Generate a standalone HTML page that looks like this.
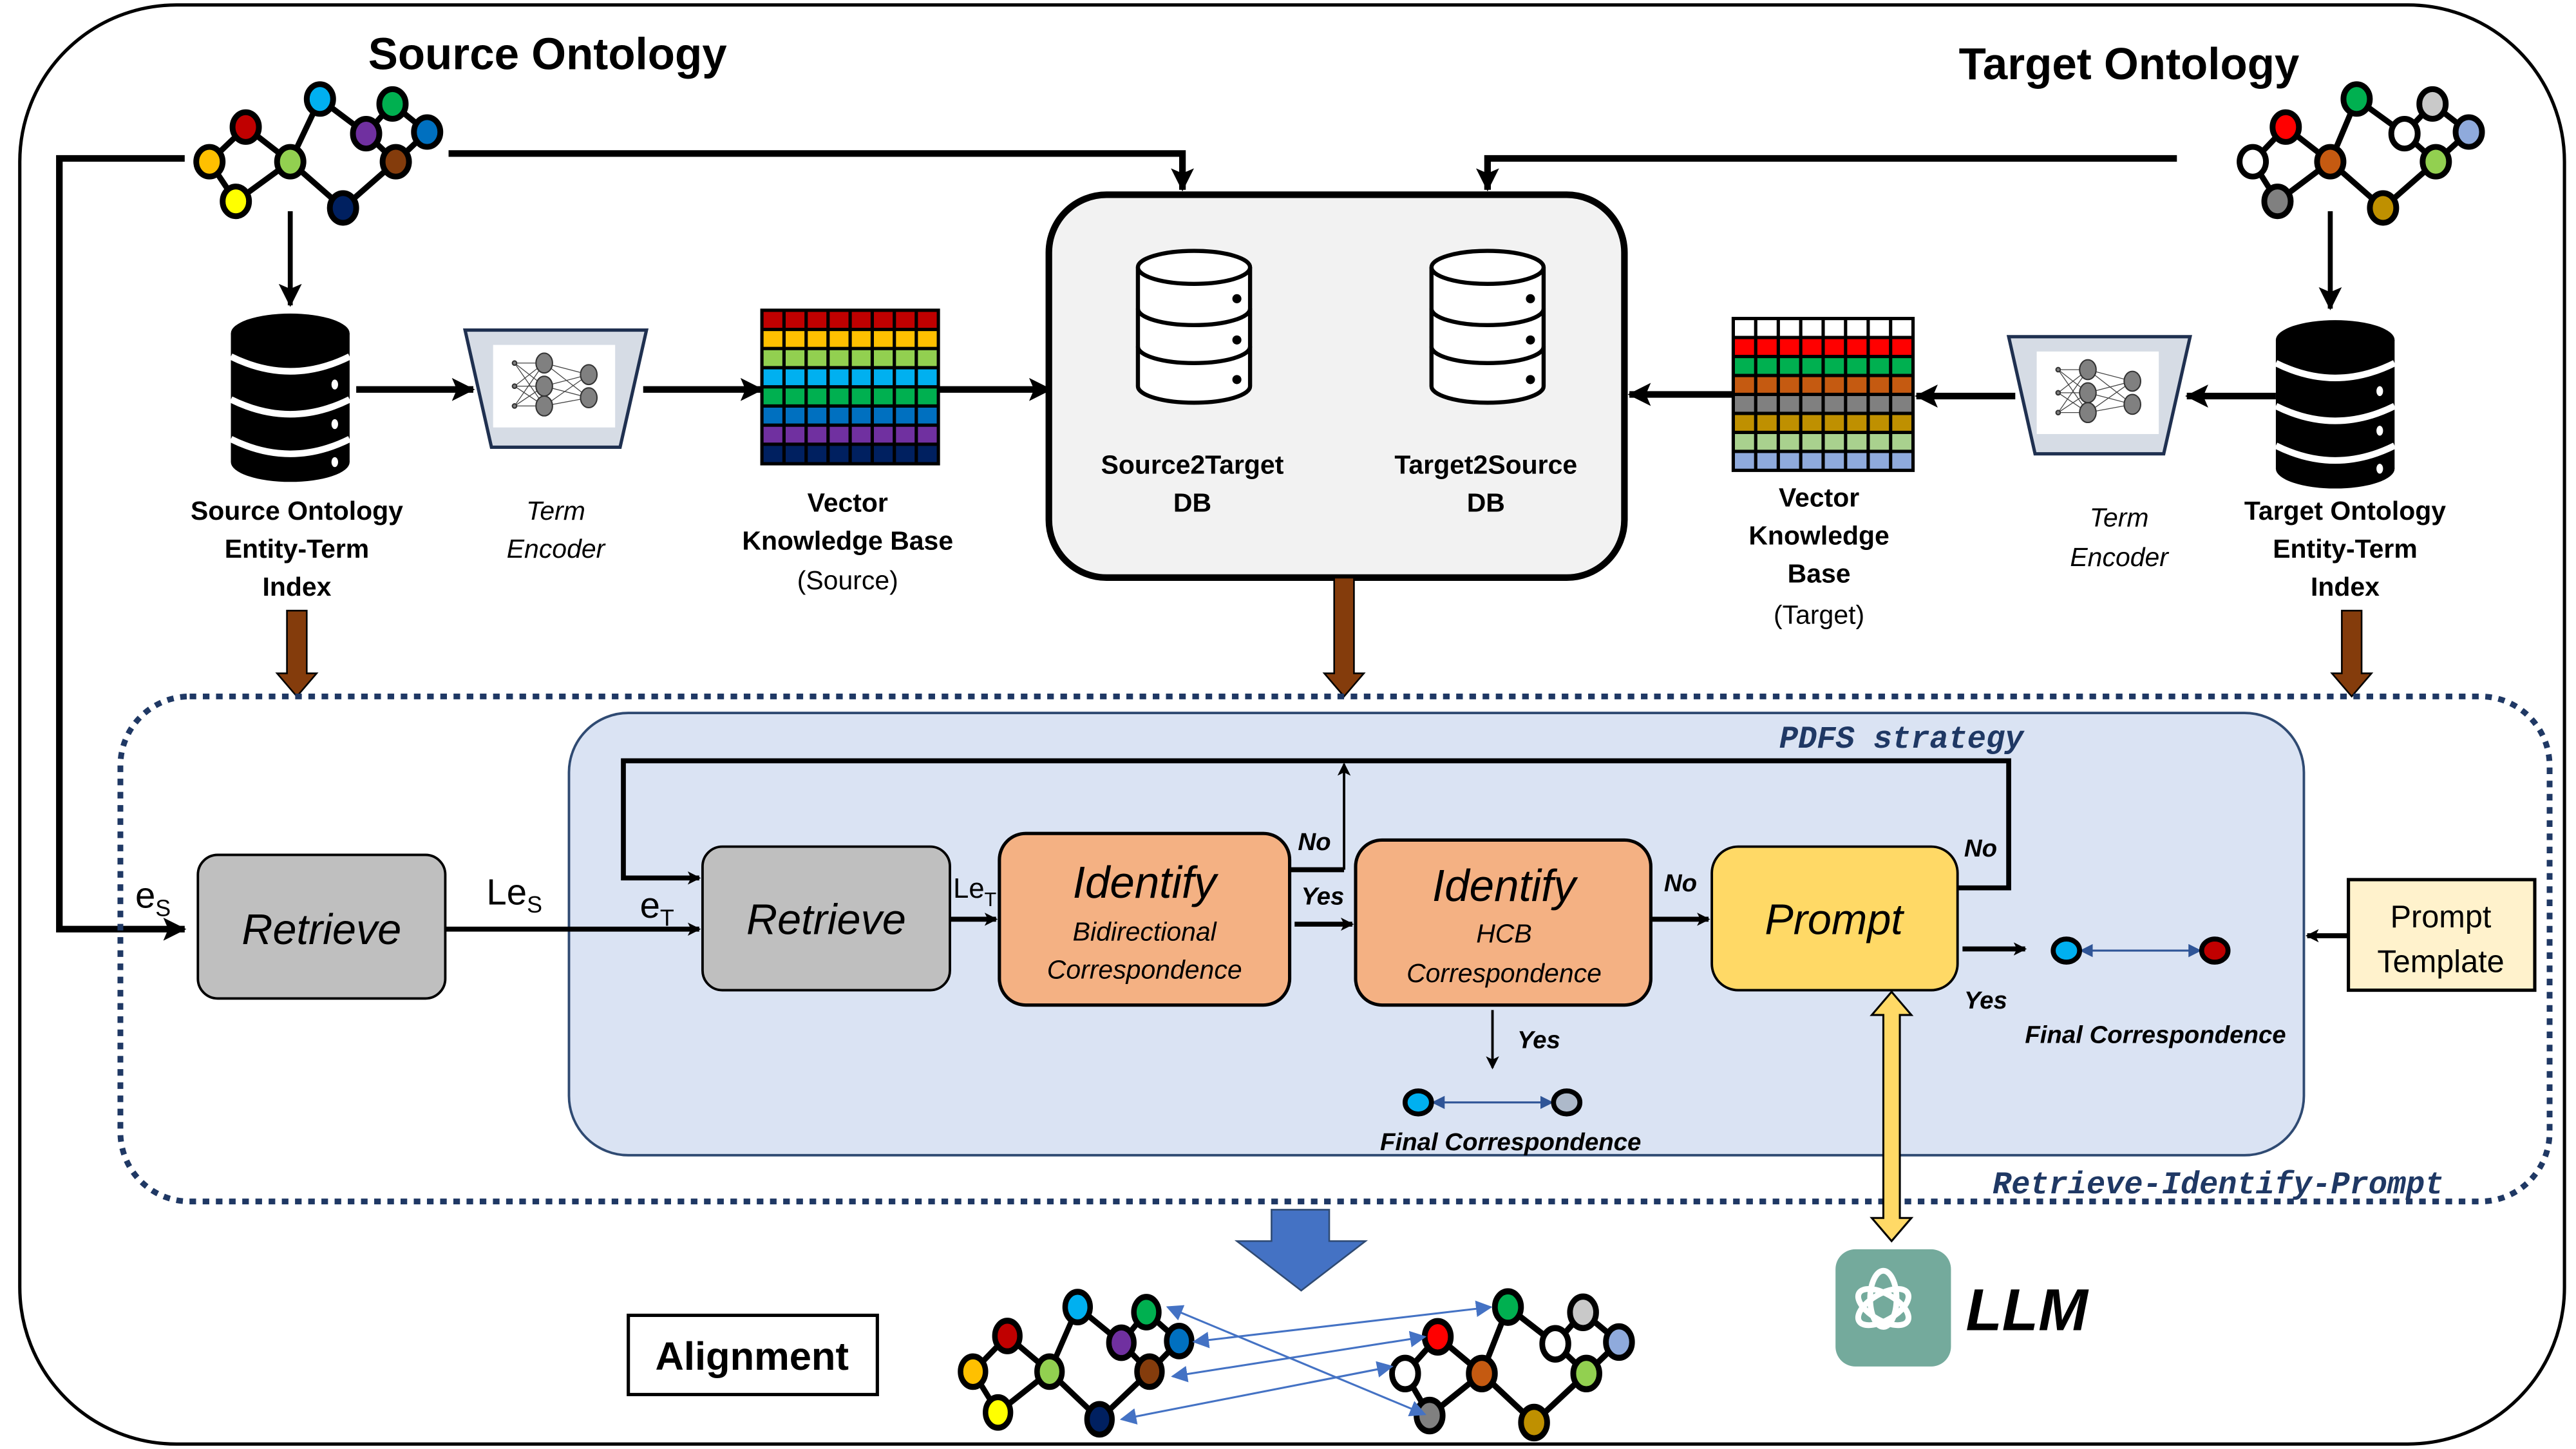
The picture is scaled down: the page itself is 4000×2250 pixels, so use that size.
<!DOCTYPE html>
<html><head><meta charset="utf-8"><style>
html,body{margin:0;padding:0;background:#fff;}
svg{display:block;}
text{font-family:"Liberation Sans","DejaVu Sans",sans-serif;}
</style></head><body>
<svg width="4000" height="2250" viewBox="0 0 1562 878" preserveAspectRatio="none" xmlns="http://www.w3.org/2000/svg">
<defs>
<marker id="ah" markerWidth="8" markerHeight="8" refX="7" refY="4" orient="auto" markerUnits="userSpaceOnUse"><path d="M0,0 L8,4 L0,8 L2,4z" fill="#000"/></marker>
<marker id="ahb" markerWidth="14" markerHeight="14" refX="13" refY="7" orient="auto" markerUnits="userSpaceOnUse"><path d="M0,0 L14,7 L0,14 L3,7z" fill="#000"/></marker>
<marker id="bl" markerWidth="10" markerHeight="10" refX="9" refY="5" orient="auto-start-reverse" markerUnits="userSpaceOnUse"><path d="M0,0 L10,5 L0,10z" fill="#4472c4"/></marker>
<marker id="bls" markerWidth="8" markerHeight="8" refX="7" refY="4" orient="auto-start-reverse" markerUnits="userSpaceOnUse"><path d="M0,0 L8,4 L0,8z" fill="#2f5597"/></marker>
<g id="srcg">
 <g stroke="#000" stroke-width="3.5" fill="none">
  <path d="M127,98 L149,77 L176,98 L143,122 Z M176,98 L194,60 L222,81 L238,63 L259,80 L240,98 L222,81 M240,98 L208,126 L176,98"/>
 </g>
 <g stroke="#000" stroke-width="3.5">
  <ellipse cx="149" cy="77" rx="8" ry="9" fill="#c00000"/>
  <ellipse cx="127" cy="98" rx="8" ry="9" fill="#ffc000"/>
  <ellipse cx="176" cy="98" rx="8" ry="9" fill="#92d050"/>
  <ellipse cx="143" cy="122" rx="8" ry="9" fill="#ffff00"/>
  <ellipse cx="194" cy="60" rx="8" ry="9" fill="#00b0f0"/>
  <ellipse cx="222" cy="81" rx="8" ry="9" fill="#7030a0"/>
  <ellipse cx="238" cy="63" rx="8" ry="9" fill="#00b050"/>
  <ellipse cx="259" cy="80" rx="8" ry="9" fill="#0070c0"/>
  <ellipse cx="240" cy="98" rx="8" ry="9" fill="#843c0c"/>
  <ellipse cx="208" cy="126" rx="8" ry="9" fill="#002060"/>
 </g>
</g>
<g id="tgtg">
 <g stroke="#000" stroke-width="3.5" fill="none">
  <path d="M1366,98 L1386,77 L1413,98 L1381,122 Z M1413,98 L1429,60 L1458,81 L1475,63 L1497,80 L1477,98 L1458,81 M1477,98 L1445,126 L1413,98"/>
 </g>
 <g stroke="#000" stroke-width="3.5">
  <ellipse cx="1386" cy="77" rx="8" ry="9" fill="#ff0000"/>
  <ellipse cx="1366" cy="98" rx="8" ry="9" fill="#fff"/>
  <ellipse cx="1413" cy="98" rx="8" ry="9" fill="#c55a11"/>
  <ellipse cx="1381" cy="122" rx="8" ry="9" fill="#808080"/>
  <ellipse cx="1429" cy="60" rx="8" ry="9" fill="#00b050"/>
  <ellipse cx="1458" cy="81" rx="8" ry="9" fill="#fff"/>
  <ellipse cx="1475" cy="63" rx="8" ry="9" fill="#c9c9c9"/>
  <ellipse cx="1497" cy="80" rx="8" ry="9" fill="#8faadc"/>
  <ellipse cx="1477" cy="98" rx="8" ry="9" fill="#92d050"/>
  <ellipse cx="1445" cy="126" rx="8" ry="9" fill="#bf9000"/>
 </g>
</g>
<g id="bdb">
 <rect x="0" y="12" width="72" height="78" fill="#000"/>
 <ellipse cx="36" cy="12" rx="36" ry="12" fill="#000"/>
 <ellipse cx="36" cy="90" rx="36" ry="12" fill="#000"/>
 <path d="M0,26 Q36,44 72,26" stroke="#fff" stroke-width="4" fill="none"/>
 <path d="M0,52 Q36,70 72,52" stroke="#fff" stroke-width="4" fill="none"/>
 <path d="M0,76 Q36,94 72,76" stroke="#fff" stroke-width="4" fill="none"/>
 <ellipse cx="63" cy="43" rx="2" ry="3" fill="#fff"/>
 <ellipse cx="63" cy="67" rx="2" ry="3" fill="#fff"/>
 <ellipse cx="63" cy="90" rx="2" ry="3" fill="#fff"/>
</g>
<g id="wdb" fill="#fff" stroke="#000" stroke-width="2.5">
 <path d="M0,10 L0,82 A34,10 0 0 0 68,82 L68,10"/>
 <ellipse cx="34" cy="10" rx="34" ry="10"/>
 <path d="M0,35 A34,10 0 0 0 68,35 M0,58 A34,10 0 0 0 68,58" fill="none"/>
 <circle cx="60" cy="29" r="1.5" fill="#000"/>
 <circle cx="60" cy="54" r="1.5" fill="#000"/>
 <circle cx="60" cy="78" r="1.5" fill="#000"/>
</g>
<g id="enc">
 <path d="M0,0 L110,0 L94,71 L16,71 Z" fill="#d6dce5" stroke="#1f3050" stroke-width="2"/>
 <rect x="17" y="9" width="74" height="50" fill="#fff"/>
 <g stroke="#444" stroke-width="0.5">
  <path d="M30,20 L48,20 M30,20 L48,34 M30,20 L48,46 M30,34 L48,20 M30,34 L48,34 M30,34 L48,46 M30,46 L48,20 M30,46 L48,34 M30,46 L48,46 M48,20 L75,27 M48,20 L75,41 M48,34 L75,27 M48,34 L75,41 M48,46 L75,27 M48,46 L75,41"/>
 </g>
 <g fill="#808080" stroke="#333" stroke-width="0.8">
  <circle cx="30" cy="20" r="1.3"/><circle cx="30" cy="34" r="1.3"/><circle cx="30" cy="46" r="1.3"/>
  <ellipse cx="48" cy="20" rx="5" ry="6"/><ellipse cx="48" cy="34" rx="5" ry="6"/><ellipse cx="48" cy="46" rx="5" ry="6"/>
  <ellipse cx="75" cy="27" rx="5" ry="6"/><ellipse cx="75" cy="41" rx="5" ry="6"/>
 </g>
</g>
</defs>

<!-- outer frame -->
<rect x="12" y="3" width="1543" height="872" rx="95" ry="95" fill="#fff" stroke="#000" stroke-width="2"/>

<text x="332" y="42" font-size="27" font-weight="bold" text-anchor="middle">Source  Ontology</text>
<text x="1291" y="48" font-size="27" font-weight="bold" text-anchor="middle">Target Ontology</text>

<use href="#srcg"/>
<use href="#tgtg"/>

<!-- top connectors -->
<g stroke="#000" stroke-width="4" fill="none">
 <path d="M112,96 L36,96 L36,563 L112,563" marker-end="url(#ahb)"/>
 <path d="M272,93 L717,93 L717,115" marker-end="url(#ahb)"/>
 <path d="M1320,96 L902,96 L902,115" marker-end="url(#ahb)"/>
</g>
<g stroke="#000" stroke-width="3" fill="none">
 <path d="M176,128 L176,185" marker-end="url(#ahb)"/>
 <path d="M1413,128 L1413,187" marker-end="url(#ahb)"/>
</g>
<g stroke="#000" stroke-width="4" fill="none">
 <path d="M216,236 L287,236" marker-end="url(#ahb)"/>
 <path d="M390,236 L462,236" marker-end="url(#ahb)"/>
 <path d="M569,236 L637,236" marker-end="url(#ahb)"/>
 <path d="M1380,240 L1326,240" marker-end="url(#ahb)"/>
 <path d="M1222,240 L1162,240" marker-end="url(#ahb)"/>
 <path d="M1051,239 L988,239" marker-end="url(#ahb)"/>
</g>

<use href="#bdb" x="140" y="190"/>
<use href="#bdb" x="1380" y="194"/>
<use href="#enc" x="282" y="200"/>
<use href="#enc" x="1218" y="204"/>

<!-- source vector matrix -->
<g>
 <rect x="462" y="188" width="107" height="12" fill="#c00000"/>
 <rect x="462" y="199.6" width="107" height="12" fill="#ffc000"/>
 <rect x="462" y="211.2" width="107" height="12" fill="#92d050"/>
 <rect x="462" y="222.8" width="107" height="12" fill="#00b0f0"/>
 <rect x="462" y="234.4" width="107" height="12" fill="#00b050"/>
 <rect x="462" y="246" width="107" height="12" fill="#0070c0"/>
 <rect x="462" y="257.6" width="107" height="12" fill="#7030a0"/>
 <rect x="462" y="269.2" width="107" height="12" fill="#002060"/>
 <g stroke="#000" stroke-width="2" fill="none">
  <rect x="462" y="188" width="107" height="93"/>
  <path d="M475.4,188V281M488.8,188V281M502.1,188V281M515.5,188V281M528.9,188V281M542.3,188V281M555.6,188V281"/>
  <path d="M462,199.6H569M462,211.2H569M462,222.8H569M462,234.4H569M462,246H569M462,257.6H569M462,269.2H569"/>
 </g>
</g>
<!-- target vector matrix -->
<g>
 <rect x="1051" y="193" width="109" height="12" fill="#fff"/>
 <rect x="1051" y="204.5" width="109" height="12" fill="#ff0000"/>
 <rect x="1051" y="216" width="109" height="12" fill="#00b050"/>
 <rect x="1051" y="227.5" width="109" height="12" fill="#c55a11"/>
 <rect x="1051" y="239" width="109" height="12" fill="#808080"/>
 <rect x="1051" y="250.5" width="109" height="12" fill="#bf9000"/>
 <rect x="1051" y="262" width="109" height="12" fill="#a9d18e"/>
 <rect x="1051" y="273.5" width="109" height="11.5" fill="#8faadc"/>
 <g stroke="#000" stroke-width="2" fill="none">
  <rect x="1051" y="193" width="109" height="92"/>
  <path d="M1064.6,193V285M1078.3,193V285M1091.9,193V285M1105.5,193V285M1119.1,193V285M1132.8,193V285M1146.4,193V285"/>
  <path d="M1051,204.5H1160M1051,216H1160M1051,227.5H1160M1051,239H1160M1051,250.5H1160M1051,262H1160M1051,273.5H1160"/>
 </g>
</g>

<!-- central DB box -->
<rect x="636" y="118" width="349" height="232" rx="35" fill="#f2f2f2" stroke="#000" stroke-width="4"/>
<use href="#wdb" x="690" y="152"/>
<use href="#wdb" x="868" y="152"/>
<g font-size="16" font-weight="bold" text-anchor="middle">
 <text x="723" y="287">Source2Target</text><text x="723" y="310">DB</text>
 <text x="901" y="287">Target2Source</text><text x="901" y="310">DB</text>
 <text x="180" y="315">Source Ontology</text><text x="180" y="338">Entity-Term</text><text x="180" y="361">Index</text>
 <text x="514" y="310">Vector</text><text x="514" y="333">Knowledge  Base</text>
 <text x="1103" y="307">Vector</text><text x="1103" y="330">Knowledge</text><text x="1103" y="353">Base</text>
 <text x="1422" y="315">Target Ontology</text><text x="1422" y="338">Entity-Term</text><text x="1422" y="361">Index</text>
</g>
<g font-size="16" text-anchor="middle">
 <text x="514" y="357">(Source)</text>
 <text x="1103" y="378">(Target)</text>
 <text x="337" y="315" font-style="italic">Term</text><text x="337" y="338" font-style="italic">Encoder</text>
 <text x="1285" y="319" font-style="italic">Term</text><text x="1285" y="343" font-style="italic">Encoder</text>
</g>

<!-- brown arrows -->
<g fill="#843c0c" stroke="#000" stroke-width="1">
 <path d="M174,370 H186 V408 H192 L180,422 L168,408 H174Z"/>
 <path d="M809,350 H821 V408 H827 L815,422 L803,408 H809Z"/>
 <path d="M1420,370 H1432 V408 H1438 L1426,422 L1414,408 H1420Z"/>
</g>

<!-- dotted region -->
<rect x="73" y="422" width="1473" height="306" rx="42" fill="none" stroke="#1f3864" stroke-width="3.5" stroke-dasharray="4,4"/>
<!-- blue panel -->
<rect x="345" y="432" width="1052" height="268" rx="36" fill="#dae3f3" stroke="#2f4a72" stroke-width="1.5"/>
<g font-family="'Liberation Mono',monospace" font-weight="bold" font-style="italic" fill="#1f3864">
 <text x="1153" y="453" font-size="19" text-anchor="middle" style="font-family:'Liberation Mono',monospace">PDFS strategy</text>
 <text x="1345" y="723" font-size="19" text-anchor="middle" style="font-family:'Liberation Mono',monospace">Retrieve-Identify-Prompt</text>
</g>

<!-- boxes -->
<rect x="120" y="518" width="150" height="87" rx="12" fill="#bfbfbf" stroke="#000" stroke-width="1.5"/>
<rect x="426" y="513" width="150" height="87" rx="12" fill="#bfbfbf" stroke="#000" stroke-width="1.5"/>
<rect x="606" y="505" width="176" height="104" rx="16" fill="#f4b183" stroke="#000" stroke-width="2"/>
<rect x="822" y="509" width="179" height="100" rx="16" fill="#f4b183" stroke="#000" stroke-width="2"/>
<rect x="1038" y="513" width="149" height="87" rx="16" fill="#ffd966" stroke="#000" stroke-width="1.5"/>
<rect x="1424" y="533" width="113" height="67" fill="#fff2cc" stroke="#000" stroke-width="2"/>

<g font-style="italic" text-anchor="middle">
 <text x="195" y="572" font-size="26">Retrieve</text>
 <text x="501" y="566" font-size="26">Retrieve</text>
 <text x="694" y="544" font-size="27">Identify</text>
 <text x="694" y="570" font-size="16">Bidirectional</text>
 <text x="694" y="593" font-size="16">Correspondence</text>
 <text x="912" y="546" font-size="27">Identify</text>
 <text x="912" y="571" font-size="16">HCB</text>
 <text x="912" y="595" font-size="16">Correspondence</text>
 <text x="1112" y="566" font-size="26">Prompt</text>
</g>
<g font-size="19" text-anchor="middle">
 <text x="1480" y="562">Prompt</text><text x="1480" y="589">Template</text>
</g>

<!-- flow arrows -->
<g stroke="#000" stroke-width="3" fill="none">
 <path d="M270,563 L424,563" marker-end="url(#ah)"/>
 <path d="M1187,538 L1218,538 L1218,461 L378,461 L378,532 L424,532" marker-end="url(#ah)"/>
 <path d="M576,557 L604,557" marker-end="url(#ah)"/>
 <path d="M782,527 L815,527"/>
 <path d="M785,560 L820,560" marker-end="url(#ah)"/>
 <path d="M1001,557 L1036,557" marker-end="url(#ah)"/>
 <path d="M1190,575 L1228,575" marker-end="url(#ah)"/>
 <path d="M1424,567 L1399,567" marker-end="url(#ah)"/>
</g>
<g stroke="#000" stroke-width="1.5" fill="none">
 <path d="M815,527 L815,463" marker-end="url(#ah)"/>
 <path d="M905,612 L905,647" marker-end="url(#ah)"/>
</g>
<g font-size="22">
 <text x="82" y="550">e<tspan font-size="14" dy="5">S</tspan></text>
 <text x="295" y="548">Le<tspan font-size="14" dy="5">S</tspan></text>
 <text x="388" y="556">e<tspan font-size="14" dy="5">T</tspan></text>
 <text x="578" y="544" font-size="17">Le<tspan font-size="12" dy="5">T</tspan></text>
</g>
<g font-size="15" font-weight="bold" font-style="italic">
 <text x="787" y="515">No</text>
 <text x="789" y="548">Yes</text>
 <text x="1009" y="540">No</text>
 <text x="1191" y="519">No</text>
 <text x="920" y="635">Yes</text>
 <text x="1191" y="611">Yes</text>
 <text x="916" y="697" text-anchor="middle">Final Correspondence</text>
 <text x="1307" y="632" text-anchor="middle">Final Correspondence</text>
</g>
<!-- final correspondence dots -->
<line x1="869" y1="668" x2="941" y2="668" stroke="#2f5597" stroke-width="1.2" marker-start="url(#bls)" marker-end="url(#bls)"/>
<ellipse cx="860" cy="668" rx="8" ry="7" fill="#00b0f0" stroke="#000" stroke-width="3"/>
<ellipse cx="950" cy="668" rx="8" ry="7" fill="#adb9ca" stroke="#000" stroke-width="3"/>
<line x1="1262" y1="576" x2="1334" y2="576" stroke="#2f5597" stroke-width="1.2" marker-start="url(#bls)" marker-end="url(#bls)"/>
<ellipse cx="1253" cy="576" rx="8" ry="7" fill="#00b0f0" stroke="#000" stroke-width="3"/>
<ellipse cx="1343" cy="576" rx="8" ry="7" fill="#c00000" stroke="#000" stroke-width="3"/>

<!-- LLM double arrow -->
<path d="M1147,601 L1159,615 L1152,615 L1152,738 L1159,738 L1147,752 L1135,738 L1142,738 L1142,615 L1135,615 Z" fill="#ffd966" stroke="#000" stroke-width="1.2"/>
<!-- LLM icon -->
<rect x="1113" y="757" width="70" height="71" rx="12" fill="#74aa9c"/>
<g stroke="#fff" stroke-width="3.5" fill="none">
 <ellipse cx="1142" cy="787" rx="8" ry="17" transform="rotate(0 1142 787)"/>
 <ellipse cx="1142" cy="792" rx="8" ry="17" transform="rotate(60 1142 792)"/>
 <ellipse cx="1142" cy="792" rx="8" ry="17" transform="rotate(-60 1142 792)"/>
</g>
<text x="1192" y="806" font-size="36" font-weight="bold" font-style="italic">LLM</text>

<!-- down blue arrow -->
<path d="M771,733 L806,733 L806,752 L828,752 L789,782 L750,752 L771,752 Z" fill="#4472c4" stroke="#2f4a72" stroke-width="1"/>
<!-- Alignment -->
<rect x="381" y="797" width="151" height="48" fill="#fff" stroke="#000" stroke-width="2"/>
<text x="456" y="830" font-size="24" font-weight="bold" text-anchor="middle">Alignment</text>

<!-- bottom graphs -->
<g transform="translate(590,792) scale(0.947,1.03) translate(-127,-60)"><use href="#srcg"/></g>
<g transform="translate(852,792) scale(0.99,1.06) translate(-1366,-60)"><use href="#tgtg"/></g>
<g stroke="#4472c4" stroke-width="1.2" fill="none">
 <line x1="708" y1="792" x2="864" y2="857" marker-start="url(#bl)" marker-end="url(#bl)"/>
 <line x1="724" y1="813" x2="904" y2="792" marker-start="url(#bl)" marker-end="url(#bl)"/>
 <line x1="711" y1="834" x2="864" y2="810" marker-start="url(#bl)" marker-end="url(#bl)"/>
 <line x1="680" y1="860" x2="844" y2="828" marker-start="url(#bl)" marker-end="url(#bl)"/>
</g>
</svg>
</body></html>
